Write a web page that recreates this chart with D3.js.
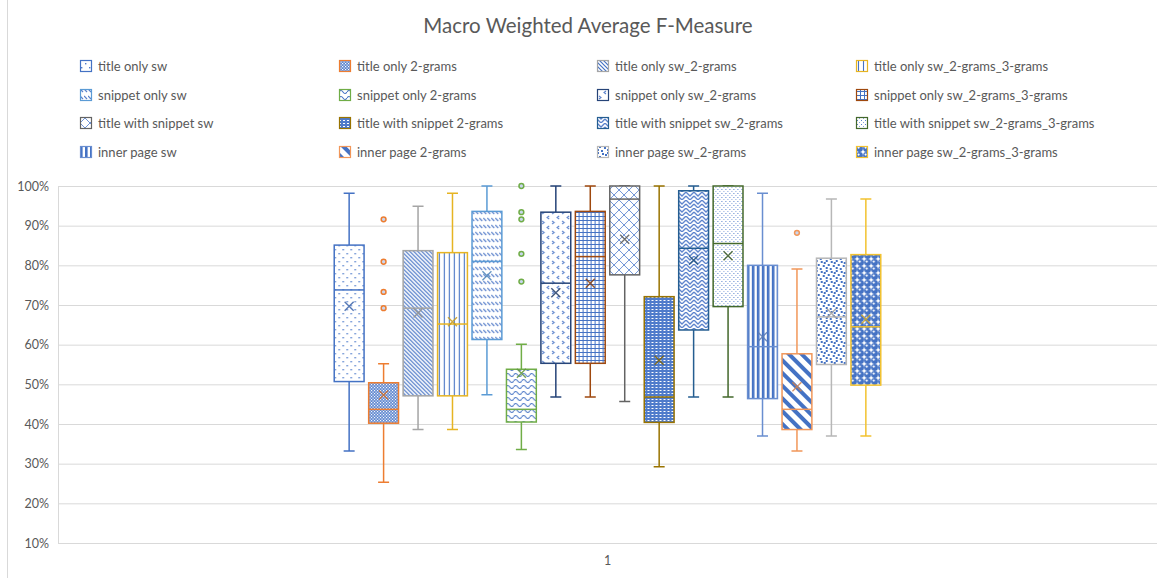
<!DOCTYPE html>
<html>
<head>
<meta charset="utf-8">
<script src="https://cdn.jsdelivr.net/npm/d3@7/dist/d3.min.js"></script>
<style>
  html, body { margin: 0; padding: 0; background: #fff; }
  svg { display: block; font-family: Lato, "Open Sans", sans-serif; }
</style>
</head>
<body>
<svg id="chart" width="1164" height="578"></svg>
<script>
// ---- data (fractions of 1) ----
const categories = ["1"];
const seriesNames = [
  "title only sw", "title only 2-grams", "title only sw_2-grams", "title only sw_2-grams_3-grams",
  "snippet only sw", "snippet only 2-grams", "snippet only sw_2-grams", "snippet only sw_2-grams_3-grams",
  "title with snippet sw", "title with snippet 2-grams", "title with snippet sw_2-grams", "title with snippet sw_2-grams_3-grams",
  "inner page sw", "inner page 2-grams", "inner page sw_2-grams", "inner page sw_2-grams_3-grams"
];
const whiskerLow  = [0.332, 0.253, 0.386, 0.386, 0.474, 0.336, 0.468, 0.468, 0.457, 0.292, 0.468, 0.468, 0.370, 0.332, 0.370, 0.370];
const quartile1   = [0.507, 0.402, 0.471, 0.471, 0.613, 0.405, 0.553, 0.553, 0.776, 0.404, 0.637, 0.696, 0.464, 0.386, 0.550, 0.498];
const medians     = [0.738, 0.437, 0.692, 0.652, 0.810, 0.437, 0.755, 0.822, 0.967, 0.468, 0.843, 0.855, 0.595, 0.437, 0.670, 0.645];
const quartile3   = [0.851, 0.504, 0.837, 0.832, 0.936, 0.538, 0.934, 0.936, 1.000, 0.721, 0.988, 1.000, 0.800, 0.577, 0.818, 0.827];
const whiskerHigh = [0.982, 0.552, 0.949, 0.982, 1.000, 0.601, 1.000, 1.000, 1.000, 1.000, 1.000, 1.000, 0.982, 0.791, 0.967, 0.967];
const means       = [0.697, 0.473, 0.680, 0.658, 0.774, 0.528, 0.731, 0.755, 0.866, 0.561, 0.813, 0.824, 0.620, 0.494, 0.679, 0.664];
const outliers    = [[], [0.692, 0.733, 0.809, 0.916], [], [], [], [0.759, 0.829, 0.916, 0.934, 1.000], [], [], [], [], [], [], [], [0.882], [], []];
const yTicks = [0.1, 0.2, 0.3, 0.4, 0.5, 0.6, 0.7, 0.8, 0.9, 1.0];

// ---- styles ----
const borderColors = ["#4472C4", "#ED7D31", "#A5A5A5", "#E6B422", "#5B9BD5", "#70AD47", "#264478", "#9E480E",
                      "#636363", "#997300", "#255E91", "#43682B", "#698ED0", "#F1975A", "#B7B7B7", "#F2C230"];
const ink = "#4472C4";
const W = 1164, H = 578;
const plot = { left: 58, right: 1157, top: 186, bottom: 543 };

const svg = d3.select("#chart");
const defs = svg.append("defs");

// pattern builders: each receives the <pattern> selection
function pat(id, w, h, draw, transform) {
  const p = defs.append("pattern").attr("id", id).attr("patternUnits", "userSpaceOnUse")
    .attr("width", w).attr("height", h);
  if (transform) p.attr("patternTransform", transform);
  draw(p);
}
const bg = (p, w, h, c) => p.append("rect").attr("width", w).attr("height", h).attr("fill", c);
const px = (p, x, y, s, c) => p.append("rect").attr("x", x).attr("y", y).attr("width", s).attr("height", s).attr("fill", c || ink);
const line = (p, d, sw, c) => p.append("path").attr("d", d).attr("fill", "none").attr("stroke", c || ink).attr("stroke-width", sw);

const patterns = [
  // 0 sparse dots
  () => pat("p0", 8, 8, p => { bg(p, 8, 8, "#fff"); px(p, 1, 1, 1.4, "#4f7bcb"); px(p, 5, 5, 1.4, "#4f7bcb"); }),
  // 1 checker
  () => pat("p1", 3, 3, p => { bg(p, 3, 3, "#5a84cf"); px(p, 0, 0, 1.2, "#fff"); px(p, 1.5, 1.5, 1.2, "#fff"); }),
  // 2 downward diagonal lines
  () => pat("p2", 4, 4, p => { bg(p, 4, 4, "#fff"); line(p, "M-1,-1L5,5M-1,3L1,5M3,-1L5,1", 1.2); }),
  // 3 narrow vertical lines
  () => pat("p3", 5, 5, p => { bg(p, 5, 5, "#fff"); line(p, "M2.5,0V5", 1.1); }),
  // 4 dashed downward diagonal
  () => pat("p4", 4, 7, p => { bg(p, 4, 7, "#fff"); line(p, "M0,1L3,4", 1.2, "#5b82cc"); }),
  // 5 wave
  () => pat("p5", 8, 6, p => { bg(p, 8, 6, "#fff"); line(p, "M0,3Q2,0 4,3T8,3", 1.1); }),
  // 6 divot
  () => pat("p6", 10, 10, p => { bg(p, 10, 10, "#fff"); line(p, "M2,1L4,2.5L2,4", 1.1, "#5b82cc"); line(p, "M9,6L7,7.5L9,9", 1.1, "#5b82cc"); }),
  // 7 small grid
  () => pat("p7", 4, 4, p => { bg(p, 4, 4, "#fff"); line(p, "M0,0.5H4M0.5,0V4", 1); }),
  // 8 outlined diamond
  () => pat("p8", 10, 10, p => { bg(p, 10, 10, "#fff"); line(p, "M0,0L10,10M10,0L0,10", 1, "#7195d6"); }),
  // 9 dense dashes
  () => pat("p9", 4, 3, p => { bg(p, 4, 3, "#4f7bcb"); p.append("rect").attr("x", 0).attr("y", 0).attr("width", 2).attr("height", 1).attr("fill", "#fff"); }),
  // 10 zig zag
  () => pat("p10", 8, 8, p => { bg(p, 8, 8, "#fff"); line(p, "M0,0L4,4L8,0M0,4L4,8L8,4", 1.3, "#5b82cc"); }),
  // 11 fine dots
  () => pat("p11", 4, 4, p => { bg(p, 4, 4, "#fff"); px(p, 1, 1, 1, "#5b82cc"); px(p, 3, 3, 1, "#8aa6dc"); }),
  // 12 dark vertical
  () => pat("p12", 5, 5, p => { bg(p, 5, 5, "#fff"); p.append("rect").attr("x", 0).attr("width", 2.6).attr("height", 5).attr("fill", ink); }),
  // 13 wide downward diagonal
  () => pat("p13", 10, 9, p => { bg(p, 10, 9, "#fff"); p.append("rect").attr("width", 10).attr("height", 4).attr("fill", ink); }, "rotate(45)"),
  // 14 small confetti
  () => pat("p14", 10, 10, p => { bg(p, 10, 10, "#fff"); [[0,0],[5,1],[2,4],[7,5],[0,7],[4,8],[8,2]].forEach(d => px(p, d[0], d[1], 2)); }),
  // 15 sphere
  () => pat("p15", 7, 7, p => {
    bg(p, 7, 7, "#fff");
    p.append("circle").attr("cx", 3.5).attr("cy", 3.5).attr("r", 3.4).attr("fill", ink);
    p.append("circle").attr("cx", 2.6).attr("cy", 2.6).attr("r", 1.1).attr("fill", "#fff");
  })
];
patterns.forEach(f => f());
const fillOf = i => `url(#p${i})`;

// ---- frame ----
svg.append("rect").attr("x", 7.5).attr("y", -2).attr("width", W + 4).attr("height", H + 4)
  .attr("fill", "none").attr("stroke", "#d9d9d9");

// ---- title ----
svg.append("text").attr("x", 588).attr("y", 33).attr("text-anchor", "middle")
  .attr("font-size", 20.5).attr("fill", "#595959").text("Macro Weighted Average F-Measure");

// ---- legend ----
const legendCols = [80, 339, 597, 856], legendRows = [66, 95, 123, 152];
const legend = svg.append("g").selectAll("g").data(seriesNames).join("g")
  .attr("transform", (d, i) => `translate(${legendCols[i % 4]},${legendRows[Math.floor(i / 4)]})`);
legend.append("rect").attr("x", 0.5).attr("y", -5.5).attr("width", 11).attr("height", 11)
  .attr("fill", (d, i) => fillOf(i)).attr("stroke", (d, i) => borderColors[i]).attr("stroke-width", 1.2);
legend.append("text").attr("x", 18).attr("y", 4.5).attr("font-size", 13).attr("fill", "#595959").text(d => d);

// ---- scales ----
const y = d3.scaleLinear().domain([0.1, 1.0]).range([plot.bottom, plot.top]);
const x0 = d3.scaleBand().domain(categories).range([plot.left, plot.right]).paddingOuter(0.497).paddingInner(0);
const x1 = d3.scaleBand().domain(d3.range(seriesNames.length)).range([0, x0.bandwidth()])
  .paddingInner(0.09).paddingOuter(0.045);

// ---- axes ----
const yAxis = svg.append("g").attr("transform", `translate(${plot.left},0)`)
  .call(d3.axisLeft(y).tickValues(yTicks).tickFormat(d3.format(".0%")).tickSize(-(plot.right - plot.left)).tickPadding(9));
yAxis.select(".domain").attr("stroke", "#d9d9d9");
yAxis.selectAll(".tick line").attr("stroke", "#d9d9d9");
yAxis.selectAll(".tick text").attr("fill", "#595959").attr("font-size", 12.5).attr("font-family", "Lato, sans-serif");

const xAxis = svg.append("g").attr("transform", `translate(0,${plot.bottom})`)
  .call(d3.axisBottom(x0).tickSize(0).tickPadding(13));
xAxis.select(".domain").remove();
xAxis.selectAll(".tick text").attr("fill", "#595959").attr("font-size", 12.5).attr("font-family", "Lato, sans-serif");

// ---- boxes ----
const boxes = svg.append("g").attr("transform", `translate(${x0("1")},0)`)
  .selectAll("g").data(seriesNames).join("g")
  .attr("transform", (d, i) => `translate(${x1(i)},0)`);
const bw = x1.bandwidth(), cx = bw / 2, cap = 5.5;

boxes.each(function (d, i) {
  const g = d3.select(this), c = borderColors[i];
  // whiskers
  g.append("path")
    .attr("d", `M${cx},${y(quartile3[i])}V${y(whiskerHigh[i])}M${cx - cap},${y(whiskerHigh[i])}H${cx + cap}` +
               `M${cx},${y(quartile1[i])}V${y(whiskerLow[i])}M${cx - cap},${y(whiskerLow[i])}H${cx + cap}`)
    .attr("stroke", c).attr("stroke-width", 1.5).attr("fill", "none");
  // box
  g.append("rect").attr("x", 0.75).attr("width", bw - 1.5)
    .attr("y", y(quartile3[i])).attr("height", y(quartile1[i]) - y(quartile3[i]))
    .attr("fill", fillOf(i)).attr("stroke", c).attr("stroke-width", 1.5);
  // median
  g.append("line").attr("x1", 0.75).attr("x2", bw - 0.75)
    .attr("y1", y(medians[i])).attr("y2", y(medians[i])).attr("stroke", c).attr("stroke-width", 1.5);
  // mean marker
  const my = y(means[i]), s = 4.5;
  g.append("path").attr("d", `M${cx - s},${my - s}L${cx + s},${my + s}M${cx - s},${my + s}L${cx + s},${my - s}`)
    .attr("stroke", d3.color(c).darker(0.4)).attr("stroke-width", 1.4).attr("opacity", 0.85);
  // outliers
  g.selectAll("circle.out").data(outliers[i]).join("circle").attr("class", "out")
    .attr("cx", cx).attr("cy", v => y(v)).attr("r", 2.4)
    .attr("fill", "#c9d6ee").attr("stroke", c).attr("stroke-width", 1.5);
});
</script>
</body>
</html>
